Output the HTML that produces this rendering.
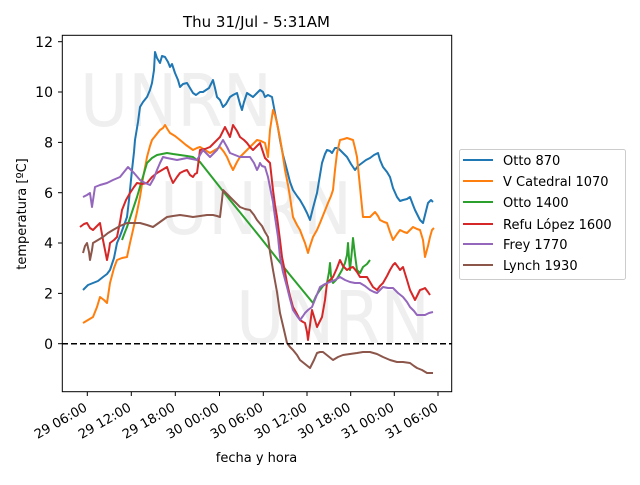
<!DOCTYPE html>
<html><head><meta charset="utf-8"><style>
body{margin:0;background:#fff;}
svg text{font-family:"DejaVu Sans","Liberation Sans",sans-serif;}
</style></head><body>
<svg width="640" height="480" viewBox="0 0 640 480" xmlns="http://www.w3.org/2000/svg">
<rect width="640" height="480" fill="#fff"/>
<g fill="#efefef" font-size="72" font-family="DejaVu Sans, Liberation Sans, sans-serif">
<text x="80" y="126" textLength="192" lengthAdjust="spacingAndGlyphs">UNRN</text>
<text x="160" y="234" textLength="192" lengthAdjust="spacingAndGlyphs">UNRN</text>
<text x="236" y="343" textLength="194" lengthAdjust="spacingAndGlyphs">UNRN</text>
</g>
<g fill="none" stroke-width="2" stroke-linejoin="round">
<polyline stroke="#1f77b4" points="83,290 88,285 93,283 98,281 103,277 107,274 110,270 114,258 117,243 120,236 123,228 127,217 129,200 132,170 134,152 135,140 138,122 140,107 143,102 147,97 150,90 152,83 154,70 155,52 157,58 160,63 162,56 165,57 168,62 170,67 172,64 175,73 178,80 180,87 183,84 187,83 190,88 193,93 196,95 200,92 203,92 206,90 209,88 213,80 215,88 217,97 220,100 223,107 226,104 230,97 233,95 237,93 240,104 242,110 244,102 247,93 250,95 253,97 256,94 260,90 263,92 265,97 268,95 272,97 275,113 278,128 280,140 283,155 287,170 290,182 293,190 297,196 300,200 304,207 307,213 310,220 313,208 317,193 320,175 322,163 325,154 327,150 330,151 332,153 335,148 338,148 342,152 347,157 351,164 355,170 358,166 362,163 366,160 370,158 374,155 378,153 380,160 383,167 387,172 390,177 393,188 397,197 400,201 403,200 407,199 410,197 413,205 415,210 418,216 420,220 423,223 425,215 428,203 431,200 433,202"/>
<polyline stroke="#ff7f0e" points="83,323 88,320 93,317 97,307 100,297 104,300 107,303 110,283 114,268 117,260 122,258 127,257 130,243 133,230 137,212 140,197 143,178 147,157 150,146 152,140 156,135 160,130 163,128 165,125 168,130 170,133 175,136 180,140 186,145 193,150 197,148 200,147 205,150 210,153 215,150 220,147 224,152 227,157 230,164 233,170 237,162 240,157 244,153 247,150 252,145 257,140 261,141 265,143 268,157 270,130 273,110 275,115 277,123 280,138 282,150 285,170 288,185 290,197 293,217 297,225 300,230 303,238 305,243 308,253 310,246 313,237 317,230 320,223 324,213 328,203 331,196 333,190 335,170 337,153 340,140 344,139 347,138 350,139 353,140 355,148 357,157 360,187 363,217 367,217 370,217 373,214 375,212 378,216 380,220 384,222 387,223 390,232 393,240 397,234 400,230 404,232 407,233 410,230 413,227 417,229 420,230 423,240 425,257 428,246 430,237 432,230 434,228"/>
<polyline stroke="#2ca02c" points="122,240 125,232 127,227 132,212 137,197 142,180 147,163 152,158 157,155 162,154 167,153 173,154 180,155 187,156 193,157 197,160 200,162 230,200 260,237 290,275 313,303 316,296 320,290 323,286 327,283 329,272 330,263 331,276 333,283 336,280 338,277 342,270 345,263 347,255 348,243 349,258 350,270 352,250 353,238 355,255 357,270 360,273 363,267 367,264 370,260"/>
<polyline stroke="#d62728" points="80,227 84,224 87,223 90,228 93,230 97,226 100,223 103,240 107,260 109,250 110,243 114,240 117,237 120,222 122,210 126,200 130,193 134,187 137,183 142,184 147,183 152,177 157,173 162,170 167,167 170,176 173,183 177,177 180,173 184,171 187,170 190,175 193,177 195,174 197,173 199,158 200,150 205,149 210,147 215,142 220,137 223,131 225,127 228,133 230,137 232,129 233,125 237,131 240,137 244,140 247,143 250,147 253,150 257,146 260,143 263,152 265,158 268,161 270,163 273,190 275,205 277,217 280,240 282,257 285,272 287,283 290,296 293,307 297,314 300,320 303,322 305,323 307,332 308,340 310,325 312,310 315,320 317,327 320,321 322,317 325,300 327,283 330,280 333,277 337,268 340,260 343,266 347,270 350,268 353,267 357,272 360,277 364,277 367,277 370,282 373,287 377,290 380,286 383,283 387,276 390,270 393,265 395,263 398,267 400,270 403,267 407,280 410,290 413,296 415,300 418,294 420,290 423,289 425,288 428,292 430,295"/>
<polyline stroke="#9467bd" points="83,197 87,195 90,193 92,207 95,187 100,185 107,183 113,180 120,177 124,172 128,167 134,173 140,180 145,183 150,185 154,178 157,170 160,163 163,157 167,158 172,159 177,160 182,159 187,158 192,159 197,160 200,155 203,150 207,154 210,157 214,153 217,150 220,145 223,140 227,147 230,153 235,155 240,157 245,157 250,157 254,163 257,170 259,166 260,163 262,166 265,167 268,177 270,187 273,202 275,217 278,237 280,257 283,272 287,287 290,299 293,310 297,316 300,320 303,316 305,313 308,310 312,307 316,297 320,287 325,284 330,282 335,280 340,277 345,280 350,282 355,283 360,283 365,286 370,290 374,292 377,293 380,290 383,287 388,288 393,288 398,293 403,297 407,302 410,307 414,311 417,315 421,315 425,315 429,313 433,312"/>
<polyline stroke="#8c564b" points="83,253 85,246 87,243 89,252 90,260 92,250 93,243 98,240 103,237 108,233 113,230 120,226 127,223 133,223 140,223 147,225 153,227 160,222 167,217 173,216 180,215 187,216 193,217 200,216 207,215 213,215 217,216 220,217 222,200 223,190 226,193 230,197 235,202 240,207 245,209 250,210 254,215 257,220 262,226 265,232 268,237 270,252 273,270 277,292 280,313 284,330 287,343 290,347 293,350 297,355 300,360 305,364 310,368 314,360 317,353 320,352 323,352 328,356 333,360 338,357 343,355 350,354 357,353 363,352 370,352 377,354 383,357 390,360 397,362 403,362 410,363 414,366 417,368 422,370 427,373 430,373 433,373"/>
</g>
<line x1="62" y1="343.7" x2="452" y2="343.7" stroke="#000" stroke-width="1.5" stroke-dasharray="6,3"/>
<rect x="62.3" y="35.3" width="389.4" height="356.4" fill="none" stroke="#000" stroke-width="1"/>
<g stroke="#000" stroke-width="1">
<line x1="58" y1="41.7" x2="62" y2="41.7"/><line x1="58" y1="92" x2="62" y2="92"/><line x1="58" y1="142.4" x2="62" y2="142.4"/><line x1="58" y1="192.7" x2="62" y2="192.7"/><line x1="58" y1="243" x2="62" y2="243"/><line x1="58" y1="293.4" x2="62" y2="293.4"/><line x1="58" y1="343.7" x2="62" y2="343.7"/>
<line x1="87.3" y1="392" x2="87.3" y2="396"/><line x1="131.3" y1="392" x2="131.3" y2="396"/><line x1="175.3" y1="392" x2="175.3" y2="396"/><line x1="219.5" y1="392" x2="219.5" y2="396"/><line x1="263.3" y1="392" x2="263.3" y2="396"/><line x1="307" y1="392" x2="307" y2="396"/><line x1="350.7" y1="392" x2="350.7" y2="396"/><line x1="394.3" y1="392" x2="394.3" y2="396"/><line x1="438" y1="392" x2="438" y2="396"/>
</g>
<g font-size="14" text-anchor="end" fill="#000">
<text x="53" y="47">12</text><text x="53" y="97">10</text><text x="53" y="147.5">8</text><text x="53" y="198">6</text><text x="53" y="248">4</text><text x="53" y="298.5">2</text><text x="53" y="349">0</text>
</g>
<g font-size="13" text-anchor="end" fill="#000">
<text transform="translate(88,410) rotate(-30)">29 06:00</text>
<text transform="translate(132,410) rotate(-30)">29 12:00</text>
<text transform="translate(176,410) rotate(-30)">29 18:00</text>
<text transform="translate(220,410) rotate(-30)">30 00:00</text>
<text transform="translate(264,410) rotate(-30)">30 06:00</text>
<text transform="translate(308,410) rotate(-30)">30 12:00</text>
<text transform="translate(351.5,410) rotate(-30)">30 18:00</text>
<text transform="translate(395,410) rotate(-30)">31 00:00</text>
<text transform="translate(439,410) rotate(-30)">31 06:00</text>
</g>
<text x="256.5" y="462" font-size="13" text-anchor="middle">fecha y hora</text>
<text transform="translate(26,214) rotate(-90)" font-size="13" text-anchor="middle">temperatura [ºC]</text>
<text x="256.5" y="27" font-size="15" text-anchor="middle">Thu 31/Jul - 5:31AM</text>
<rect x="459.5" y="149.5" width="166" height="130" rx="2" fill="#fff" stroke="#ccc"/>
<g stroke-width="2">
<line x1="463" y1="160" x2="493" y2="160" stroke="#1f77b4"/>
<line x1="463" y1="181" x2="493" y2="181" stroke="#ff7f0e"/>
<line x1="463" y1="202" x2="493" y2="202" stroke="#2ca02c"/>
<line x1="463" y1="224" x2="493" y2="224" stroke="#d62728"/>
<line x1="463" y1="244" x2="493" y2="244" stroke="#9467bd"/>
<line x1="463" y1="265" x2="493" y2="265" stroke="#8c564b"/>
</g>
<g font-size="13" fill="#000">
<text x="503" y="165">Otto 870</text>
<text x="503" y="186">V Catedral 1070</text>
<text x="503" y="207">Otto 1400</text>
<text x="503" y="229">Refu López 1600</text>
<text x="503" y="249">Frey 1770</text>
<text x="503" y="270">Lynch 1930</text>
</g>
</svg>
</body></html>
